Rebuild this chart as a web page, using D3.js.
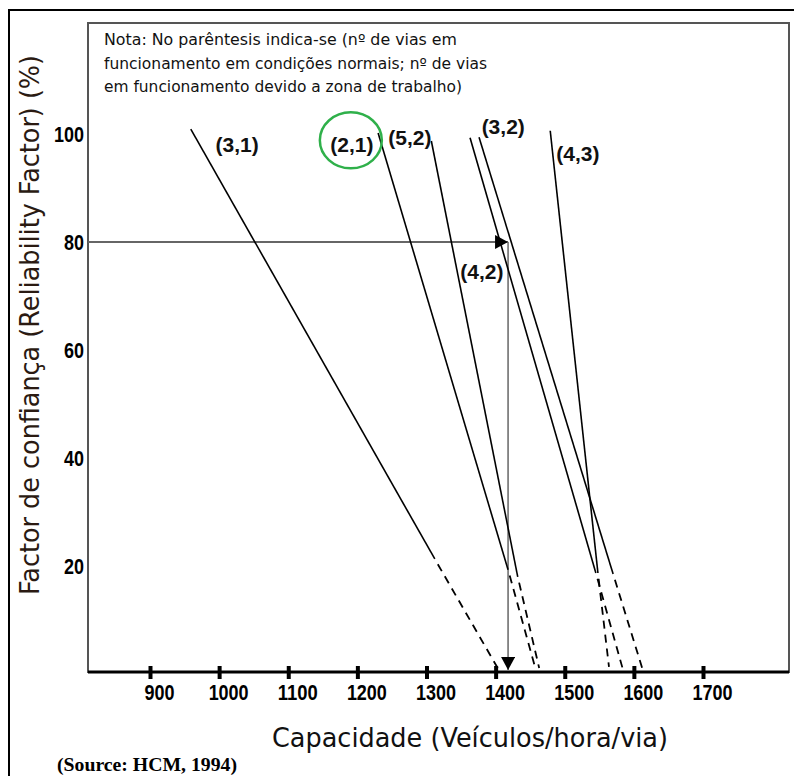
<!DOCTYPE html>
<html>
<head>
<meta charset="utf-8">
<script src="https://cdn.jsdelivr.net/npm/d3@7"></script>
<style>
  body { margin: 0; background: #fff; }
  svg { display: block; }
</style>
</head>
<body>
<div id="chart"></div>
<script>
// Values (HCM, 1994)
var laneLabels = ["(3,1)", "(2,1)", "(5,2)", "(4,2)", "(3,2)", "(4,3)"];
// capacity (veh/h/lane) and reliability (%) at the top of each line,
// at the end of its solid part and at the end of its dashed part
var capTop = [959, 1230, 1307, 1363, 1376, 1479];
var relTop = [100.9, 100.2, 98.7, 99.3, 99.4, 100.6];
var capSolidEnd = [1312, 1418, 1432, 1545, 1570, 1548];
var relSolidEnd = [21.3, 19.3, 18.0, 18.7, 18.5, 18.7];
var capDashEnd = [1403, 1457, 1463, 1584, 1612, 1564];
var relDashEnd = [1.1, 1.3, 1.1, 0.9, 1.1, 1.3];
// where each line label sits
var labelCap = [1026, 1192, 1276, 1380, 1411, 1519];
var labelRel = [98.0, 98.1, 99.3, 74.6, 101.3, 96.3];
// worked example: 80 % read across, then down to capacity
var readRel = 80;
var readCap = 1418;

var xTicks = [900, 1000, 1100, 1200, 1300, 1400, 1500, 1600, 1700];
var yTicks = [20, 40, 60, 80, 100];
var noteLines = [
	"Nota: No parêntesis indica-se (nº de vias em",
	"funcionamento em condições normais; nº de vias",
	"em funcionamento devido a zona de trabalho)"
];
var noteWidths = [353, 383, 358];

//////////////
// SET UP   //
//////////////
var W = 794, H = 776;
var box = { left: 88, top: 23, right: 789, bottom: 672 };
var digitW = 10; // the tick numbers are set in a narrow bold face

var svg = d3.select("#chart").append("svg")
	.attr("width", W)
	.attr("height", H);

var x = d3.scaleLinear().domain([900, 1700]).range([150, 703]);
var y = d3.scaleLinear().domain([0, 100]).range([674, 134]);

// arrow heads
var defs = svg.append("defs");
defs.append("marker")
	.attr("id", "arrow")
	.attr("markerUnits", "userSpaceOnUse")
	.attr("viewBox", "0 0 13 14")
	.attr("refX", 13).attr("refY", 7)
	.attr("markerWidth", 13).attr("markerHeight", 14)
	.attr("orient", "auto")
	.append("path")
		.attr("d", "M0,0 L13,7 L0,14 Z")
		.attr("fill", "#000");

// outer frame (runs off the right and bottom of the page)
svg.append("rect")
	.attr("x", 9).attr("y", 10)
	.attr("width", 820).attr("height", 820)
	.attr("fill", "none")
	.attr("stroke", "#000")
	.attr("stroke-width", 2);

// plot box
svg.append("rect")
	.attr("x", box.left).attr("y", box.top)
	.attr("width", box.right - box.left).attr("height", box.bottom - box.top)
	.attr("fill", "none")
	.attr("stroke", "#555")
	.attr("stroke-width", 2);

/////////////
// NOTE    //
/////////////
svg.append("g").selectAll("text")
	.data(noteLines)
	.enter().append("text")
		.attr("x", 104)
		.attr("y", function(d, i) { return 45 + i * 23.5; })
		.attr("textLength", function(d, i) { return noteWidths[i]; })
		.attr("lengthAdjust", "spacingAndGlyphs")
		.style("font-family", "'DejaVu Sans', sans-serif")
		.style("font-size", "16px")
		.style("fill", "#111")
		.text(function(d) { return d; });

/////////////
// AXES    //
/////////////
var xAxis = svg.append("g")
	.attr("transform", "translate(0," + box.bottom + ")")
	.call(d3.axisBottom(x).tickValues(xTicks).tickSize(13).tickFormat(d3.format("d")));
xAxis.select(".domain").remove();
xAxis.selectAll(".tick line")
	.attr("y1", -6).attr("y2", 7)
	.attr("stroke", "#000")
	.attr("stroke-width", 4);
xAxis.selectAll(".tick text")
	.attr("y", 12)
	.attr("dx", 9)
	.attr("textLength", function(d) { return String(d).length * digitW; })
	.attr("lengthAdjust", "spacingAndGlyphs")
	.style("font-family", "'Liberation Sans', Arial, sans-serif")
	.style("font-weight", "bold")
	.style("font-size", "22px")
	.style("fill", "#000");

// axis line
svg.append("line")
	.attr("x1", box.left).attr("x2", box.right)
	.attr("y1", box.bottom).attr("y2", box.bottom)
	.attr("stroke", "#000")
	.attr("stroke-width", 3);

var yAxis = svg.append("g")
	.attr("transform", "translate(" + box.left + ",0)")
	.call(d3.axisLeft(y).tickValues(yTicks).tickSize(0).tickPadding(4));
yAxis.select(".domain").remove();
yAxis.selectAll(".tick text")
	.attr("textLength", function(d) { return String(d).length * digitW; })
	.attr("lengthAdjust", "spacingAndGlyphs")
	.style("font-family", "'Liberation Sans', Arial, sans-serif")
	.style("font-weight", "bold")
	.style("font-size", "22px")
	.style("fill", "#000");

// axis titles
svg.append("text")
	.attr("x", 470).attr("y", 747)
	.attr("text-anchor", "middle")
	.attr("textLength", 396)
	.attr("lengthAdjust", "spacingAndGlyphs")
	.style("font-family", "'DejaVu Sans', sans-serif")
	.style("font-size", "26px")
	.style("fill", "#111")
	.text("Capacidade (Veículos/hora/via)");

svg.append("text")
	.attr("transform", "translate(39,325) rotate(-90)")
	.attr("text-anchor", "middle")
	.attr("textLength", 540)
	.attr("lengthAdjust", "spacingAndGlyphs")
	.style("font-family", "'DejaVu Sans', sans-serif")
	.style("font-size", "26px")
	.style("fill", "#2a1a12")
	.text("Factor de confiança (Reliability Factor) (%)");

svg.append("text")
	.attr("x", 57).attr("y", 771)
	.attr("textLength", 180)
	.attr("lengthAdjust", "spacingAndGlyphs")
	.style("font-family", "'Liberation Serif', 'Times New Roman', serif")
	.style("font-weight", "bold")
	.style("font-size", "18px")
	.style("fill", "#000")
	.text("(Source: HCM, 1994)");

//////////////////////
// WORKED EXAMPLE   //
//////////////////////
svg.append("line")
	.attr("x1", box.left).attr("x2", x(readCap))
	.attr("y1", y(readRel)).attr("y2", y(readRel))
	.attr("stroke", "#666")
	.attr("stroke-width", 1.8)
	.attr("marker-end", "url(#arrow)");

svg.append("line")
	.attr("x1", x(readCap)).attr("x2", x(readCap))
	.attr("y1", y(readRel)).attr("y2", box.bottom - 2)
	.attr("stroke", "#666")
	.attr("stroke-width", 1.5)
	.attr("marker-end", "url(#arrow)");

/////////////
// LINES   //
/////////////
var idx = d3.range(laneLabels.length);

svg.append("g").selectAll("line")
	.data(idx)
	.enter().append("line")
		.attr("x1", function(i) { return x(capTop[i]); })
		.attr("y1", function(i) { return y(relTop[i]); })
		.attr("x2", function(i) { return x(capSolidEnd[i]); })
		.attr("y2", function(i) { return y(relSolidEnd[i]); })
		.attr("stroke", "#000")
		.attr("stroke-width", 1.6);

svg.append("g").selectAll("line")
	.data(idx)
	.enter().append("line")
		.attr("x1", function(i) { return x(capSolidEnd[i]); })
		.attr("y1", function(i) { return y(relSolidEnd[i]); })
		.attr("x2", function(i) { return x(capDashEnd[i]); })
		.attr("y2", function(i) { return y(relDashEnd[i]); })
		.attr("stroke", "#000")
		.attr("stroke-width", 1.8)
		.attr("stroke-dasharray", "8,6")
		.attr("stroke-dashoffset", 8);

svg.append("g").selectAll("text")
	.data(idx)
	.enter().append("text")
		.attr("x", function(i) { return x(labelCap[i]); })
		.attr("y", function(i) { return y(labelRel[i]); })
		.attr("dy", "0.35em")
		.attr("text-anchor", "middle")
		.style("font-family", "'Liberation Sans', Arial, sans-serif")
		.style("font-weight", "bold")
		.style("font-size", "21px")
		.style("fill", "#111")
		.text(function(i) { return laneLabels[i]; });

// green ring around the (2,1) label
svg.append("ellipse")
	.attr("cx", x(labelCap[1]) - 1)
	.attr("cy", y(labelRel[1]) - 4)
	.attr("rx", 31).attr("ry", 28)
	.attr("fill", "none")
	.attr("stroke", "#2fb04a")
	.attr("stroke-width", 2.5);
</script>
</body>
</html>
